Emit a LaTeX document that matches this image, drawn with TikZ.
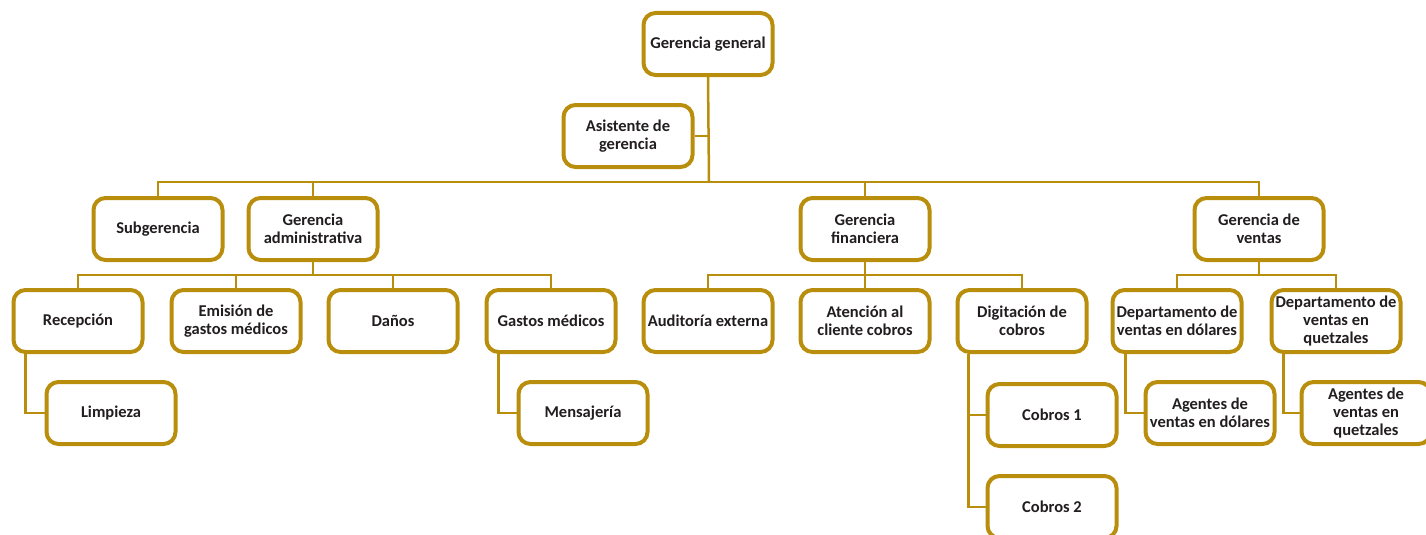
\documentclass[tikz,border=0pt]{standalone}
\usepackage{fontspec}
\setmainfont{Carlito}
\usetikzlibrary{calc}

\definecolor{gold}{RGB}{184,142,12}
\definecolor{ink}{RGB}{34,30,32}

\begin{document}
\begin{tikzpicture}[x=1pt,y=-1pt,
    unit/.style={draw=gold,line width=4pt,rounded corners=12pt,fill=white,
      minimum width=129pt,minimum height=62pt,inner sep=1pt,align=center,
      text=ink,font=\fontsize{16.5}{18}\selectfont\bfseries},
    link/.style={draw=gold,line width=2.5pt}]
  \useasboundingbox (0,0) rectangle (1426,535);

  % top levels
  \node[unit] (gg) at (708,44) {Gerencia general};
  \node[unit] (asis) at (628,136) {Asistente de\\gerencia};
  \node[unit] (sub) at (158,229) {Subgerencia};
  \node[unit] (adm) at (313,229) {Gerencia\\administrativa};
  \node[unit] (fin) at (865,229) {Gerencia\\financiera};
  \node[unit] (ven) at (1259,229) {Gerencia de\\ventas};

  % administracion
  \node[unit] (rec) at (78,321) {Recepción};
  \node[unit] (emi) at (236,321) {Emisión de\\gastos médicos};
  \node[unit] (dan) at (393,321) {Daños};
  \node[unit] (gmed) at (551,321) {Gastos médicos};
  \node[unit] (limp) at (111,413) {Limpieza};
  \node[unit] (mens) at (583,413) {Mensajería};

  % finanzas
  \node[unit] (aud) at (708,321) {Auditoría externa};
  \node[unit] (aten) at (865,321) {Atención al\\cliente cobros};
  \node[unit] (dig) at (1022,321) {Digitación de\\cobros};
  \node[unit] (cob1) at (1052,415) {Cobros 1};
  \node[unit] (cob2) at (1052,507) {Cobros 2};

  % ventas
  \node[unit] (dold) at (1177,321) {Departamento de\\ventas en dólares};
  \node[unit] (dquet) at (1336,321) {Departamento de\\ventas en\\quetzales};
  \node[unit] (adol) at (1210,413) {Agentes de\\ventas en dólares};
  \node[unit] (aquet) at (1366,413) {Agentes de\\ventas en\\quetzales};

  \coordinate (bus) at (709,182);
  \coordinate (lv3) at (0,275);

  \draw[link] (gg.south) -- (bus);
  \draw[link] (asis.east) -- (asis.east -| bus);
  \draw[link] (sub.north) |- (bus) -| (ven.north);
  \draw[link] (adm.north) -- (adm.north |- bus);
  \draw[link] (fin.north) -- (fin.north |- bus);

  \draw[link] (rec.north) |- (lv3 -| adm.south) -| (gmed.north);
  \draw[link] (adm.south) -- (lv3 -| adm.south);
  \draw[link] (emi.north) -- (emi.north |- lv3);
  \draw[link] (dan.north) -- (dan.north |- lv3);

  \draw[link] (aud.north) |- (lv3 -| fin.south) -| (dig.north);
  \draw[link] (fin.south) -- (aten.north);

  \draw[link] (dold.north) |- (lv3 -| ven.south) -| (dquet.north);
  \draw[link] (ven.south) -- (lv3 -| ven.south);

  % side branches
  \draw[link] ([xshift=14pt]rec.south west) |- (limp.west);
  \draw[link] ([xshift=14pt]gmed.south west) |- (mens.west);
  \draw[link] ([xshift=13pt]dig.south west) |- (cob1.west);
  \draw[link] ([xshift=13pt]dig.south west) |- (cob2.west);
  \draw[link] ([xshift=15pt]dold.south west) |- (adol.west);
  \draw[link] ([xshift=14pt]dquet.south west) |- (aquet.west);
\end{tikzpicture}
\end{document}
